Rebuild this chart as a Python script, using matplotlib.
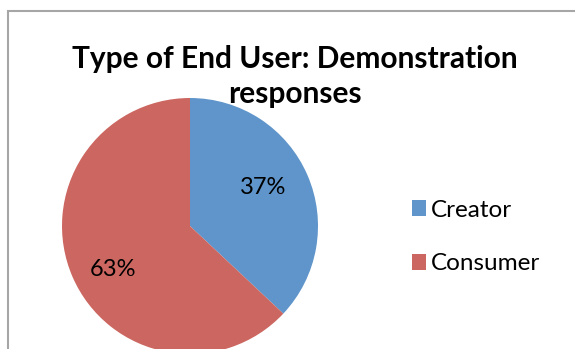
import matplotlib
matplotlib.use("Agg")
import matplotlib.pyplot as plt
from matplotlib.patches import Rectangle

# Data
categories = ["Creator", "Consumer"]
shares = [37, 63]
colors = ["#5F95CA", "#CC6660"]
title = "Type of End User: Demonstration\nresponses"

W, H = 575, 349
fig = plt.figure(figsize=(W / 100, H / 100), dpi=100)
plt.rcParams["font.family"] = ["Lato", "DejaVu Sans"]

# chart frame (continues past the right and bottom edges)
fig.patches.append(Rectangle((8 / W, -0.1), 1.2, (H - 11) / H + 0.1,
                             transform=fig.transFigure, fill=False,
                             edgecolor="#A6A6A6", linewidth=1.5))

# pie axes: centre (190, 226) px from top-left, radius 128 px
cx, cy, r = 190, 226, 128
ax = fig.add_axes([(cx - r) / W, (H - cy - r) / H, 2 * r / W, 2 * r / H])
wedges, texts, autotexts = ax.pie(
    shares, colors=colors, startangle=90, counterclock=False,
    autopct=lambda p: f"{p:.0f}%", pctdistance=0.66,
    textprops=dict(fontsize=17, color="black"),
    wedgeprops=dict(linewidth=0))
# data label placement inside each slice
label_pos = [(0.57, 0.30), (-0.60, -0.34)]
for t, (x, y) in zip(autotexts, label_pos):
    t.set_position((x, y))
ax.set_xlim(-1, 1)
ax.set_ylim(-1, 1)
ax.set_aspect("auto")
ax.axis("off")

fig.text(295 / W, 1 - 45 / H, title, ha="center", va="top",
         fontsize=21.5, fontweight="bold", linespacing=1.3)

fig.legend(wedges, categories, loc="center left",
           bbox_to_anchor=(390 / W, 1 - 237 / H), frameon=False,
           fontsize=17.5, handlelength=0.6, handleheight=0.6,
           handletextpad=0.2, labelspacing=1.35)

fig.savefig("out.png", dpi=100)
